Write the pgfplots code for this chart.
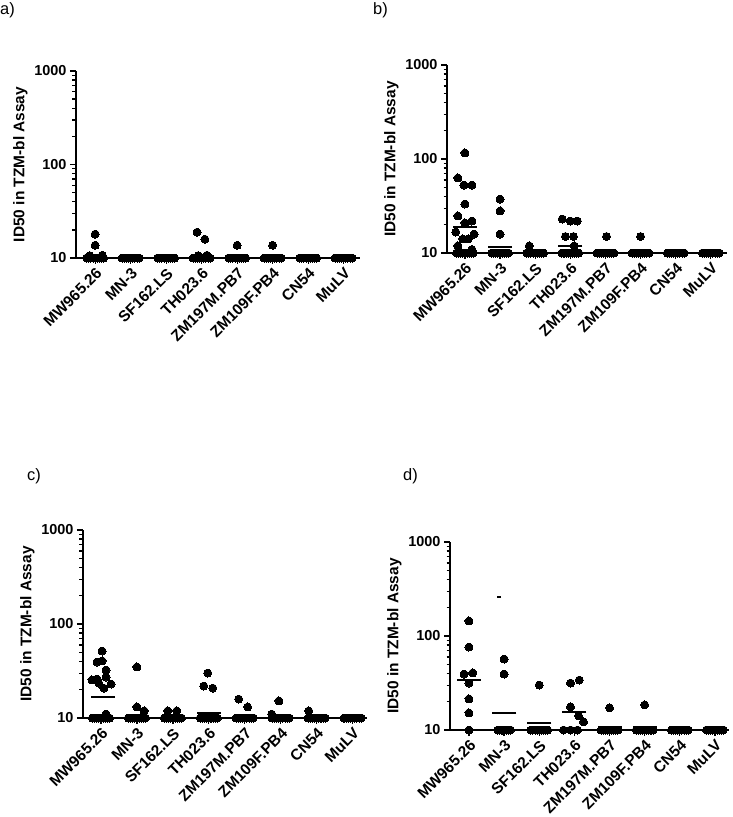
\documentclass[border=0pt]{standalone}
\usepackage{pgfplots}
\pgfplotsset{compat=1.18}
\usepackage{pgfplotstable}
\usepackage{fontspec}
\setmainfont{Liberation Sans}

% clusters of values at the detection limit (10)
\pgfplotstableread[row sep=\\]{x y\\
-0.24 10\\ -0.18 10\\ -0.12 10\\ -0.06 10\\ 0 10\\ 0.06 10\\ 0.12 10\\ 0.18 10\\ 0.24 10\\
0.76 10\\ 0.82 10\\ 0.88 10\\ 0.94 10\\ 1 10\\ 1.06 10\\ 1.12 10\\ 1.18 10\\ 1.24 10\\
1.76 10\\ 1.82 10\\ 1.88 10\\ 1.94 10\\ 2 10\\ 2.06 10\\ 2.12 10\\ 2.18 10\\ 2.24 10\\
2.76 10\\ 2.82 10\\ 2.88 10\\ 2.94 10\\ 3 10\\ 3.06 10\\ 3.12 10\\ 3.18 10\\ 3.24 10\\
3.76 10\\ 3.82 10\\ 3.88 10\\ 3.94 10\\ 4 10\\ 4.06 10\\ 4.12 10\\ 4.18 10\\ 4.24 10\\
4.76 10\\ 4.82 10\\ 4.88 10\\ 4.94 10\\ 5 10\\ 5.06 10\\ 5.12 10\\ 5.18 10\\ 5.24 10\\
5.76 10\\ 5.82 10\\ 5.88 10\\ 5.94 10\\ 6 10\\ 6.06 10\\ 6.12 10\\ 6.18 10\\ 6.24 10\\
6.76 10\\ 6.82 10\\ 6.88 10\\ 6.94 10\\ 7 10\\ 7.06 10\\ 7.12 10\\ 7.18 10\\ 7.24 10\\
}\clusters

\pgfplotstableread[row sep=\\]{x y\\
0.82 10\\ 0.88 10\\ 0.94 10\\ 1 10\\ 1.06 10\\ 1.12 10\\ 1.18 10\\
1.76 10\\ 1.82 10\\ 1.88 10\\ 1.94 10\\ 2 10\\ 2.06 10\\ 2.12 10\\ 2.18 10\\ 2.24 10\\
2.69 10\\ 2.89 10\\ 3.09 10\\
3.76 10\\ 3.82 10\\ 3.88 10\\ 3.94 10\\ 4 10\\ 4.06 10\\ 4.12 10\\ 4.18 10\\ 4.24 10\\
4.76 10\\ 4.82 10\\ 4.88 10\\ 4.94 10\\ 5 10\\ 5.06 10\\ 5.12 10\\ 5.18 10\\ 5.24 10\\
5.76 10\\ 5.82 10\\ 5.88 10\\ 5.94 10\\ 6 10\\ 6.06 10\\ 6.12 10\\ 6.18 10\\ 6.24 10\\
6.76 10\\ 6.82 10\\ 6.88 10\\ 6.94 10\\ 7 10\\ 7.06 10\\ 7.12 10\\ 7.18 10\\ 7.24 10\\
}\clustersD

\pgfplotstableread[row sep=\\]{x y\\
0 18.0\\ 0 13.7\\ 0.2 10.7\\ -0.15 10.6\\
2.87 18.9\\ 3.09 15.9\\ 3.15 10.7\\ 2.9 10.6\\
4.0 13.7\\ 5.0 13.7\\
}\dataA
\pgfplotstableread[row sep=\\]{x y\\ 0 10.45\\ 3 10.5\\}\medA

\pgfplotstableread[row sep=\\]{x y\\
0 116\\ -0.2 62.8\\ -0.03 52.8\\ 0.2 52.8\\ 0 33.2\\ -0.2 24.8\\ 0 20.9\\ 0.2 21.9\\
-0.26 16.7\\ 0.26 15.9\\ -0.06 14.1\\ 0.09 14.1\\ -0.2 11.9\\ 0.2 10.9\\
1 37.5\\ 1 28\\ 1 15.9\\
1.83 11.9\\
2.77 23\\ 3 21.9\\ 3.2 21.9\\ 2.86 15\\ 3.09 15\\ 3.11 11.9\\
4.03 15\\ 5 15\\
}\dataB
\pgfplotstableread[row sep=\\]{x y\\ 0 18.9\\ 1 11.6\\ 3 11.9\\}\medB

\pgfplotstableread[row sep=\\]{x y\\
0.03 51.6\\ -0.11 39.4\\ 0.03 40.5\\ 0.14 32.4\\ -0.25 25.4\\ -0.11 26\\ 0.14 27.3\\
-0.06 23.5\\ 0.28 23.0\\ 0.08 20.8\\ 0.14 11.0\\
1 34.9\\ 1 13.1\\ 1.2 11.9\\
1.86 11.9\\ 2.11 11.9\\
2.97 30.1\\ 2.86 21.9\\ 3.11 20.8\\
3.83 15.9\\ 4.08 13.1\\
4.95 15.2\\ 4.75 11.0\\
5.78 11.9\\
}\dataC
\pgfplotstableread[row sep=\\]{x y\\ 0.06 16.7\\ 1 10.4\\ 3 11.3\\}\medC

\pgfplotstableread[row sep=\\]{x y\\
0 144.5\\ 0 76.4\\ -0.14 39.4\\ 0.11 40.5\\ 0 31.6\\ 0 21.4\\ 0 15.2\\ 0 10\\
1 56.9\\ 1 39.4\\
2 30.1\\
2.89 31.6\\ 3.14 34\\ 2.89 17.6\\ 3.12 14.1\\ 3.26 12.2\\
4 17.2\\ 5 18.5\\
}\dataD
\pgfplotstableread[row sep=\\]{x y\\ 0 34\\ 1.01 15.2\\ 2 11.8\\ 3 15.5\\ 4 10.7\\ 5 10.8\\}\medD
\pgfplotstableread[row sep=\\]{x y\\ 0.86 260\\}\dashD

\pgfplotsset{
  mypanel/.style={
    scale only axis,
    axis lines=left,
    axis line style={-, line width=1.7bp},
    clip=false,
    ytick={10,100,1000}, yticklabels={10,100,1000},
    minor ytick={20,30,40,50,60,70,80,90,200,300,400,500,600,700,800,900},
    xtick={0,...,7},
    xticklabels={MW965.26,MN-3,SF162.LS,TH023.6,ZM197M.PB7,ZM109F.PB4,CN54,MuLV},
    xminorticks=false,
    tick align=outside,
    major tick length=6bp, minor tick length=3.5bp,
    every tick/.append style={black, line width=1.3bp},
    yticklabel style={font=\fontsize{14.5}{16}\selectfont\bfseries},
    xticklabel style={rotate=45, anchor=north east, inner sep=2pt, font=\fontsize{15.5}{17}\selectfont\bfseries},
    ylabel={ID50 in TZM-bl Assay},
    ylabel style={font=\fontsize{15.5}{18}\selectfont\bfseries},
  },
  mydots/.style={only marks, mark=*, mark size=4bp, black, mark options={fill=black, draw=black, line width=0pt}},
  mymeds/.style={only marks, mark=-, mark size=12bp, black, mark options={line width=2bp}},
}

\begin{document}
\begin{tikzpicture}
\path[use as bounding box] (0,0) rectangle (733bp,-817bp);
\node[anchor=north west, inner sep=0pt, font=\fontsize{16.5}{18}\selectfont] at (0bp,-2bp) {a)};
\node[anchor=north west, inner sep=0pt, font=\fontsize{16.5}{18}\selectfont] at (373bp,-2bp) {b)};
\node[anchor=north west, inner sep=0pt, font=\fontsize{16.5}{18}\selectfont] at (27bp,-468bp) {c)};
\node[anchor=north west, inner sep=0pt, font=\fontsize{16.5}{18}\selectfont] at (403bp,-468bp) {d)};

\begin{axis}[ymode=log, ymin=10, ymax=1000, mypanel, at={(76bp,-258bp)}, anchor=south west, width=284bp, height=187bp, xmin=-0.54, xmax=7.46]
\addplot[mydots] table[x=x,y=y] {\clusters};
\addplot[mydots] table[x=x,y=y] {\dataA};
\addplot[mymeds] table[x=x,y=y] {\medA};
\end{axis}

\begin{axis}[ymode=log, ymin=10, ymax=1000, mypanel, at={(447bp,-253bp)}, anchor=south west, width=280bp, height=188bp, xmin=-0.51, xmax=7.46]
\addplot[mydots] table[x=x,y=y] {\clusters};
\addplot[mydots] table[x=x,y=y] {\dataB};
\addplot[mymeds] table[x=x,y=y] {\medB};
\end{axis}

\begin{axis}[ymode=log, ymin=10, ymax=1000, mypanel, at={(83bp,-718bp)}, anchor=south west, width=284bp, height=188bp, xmin=-0.5, xmax=7.4]
\addplot[mydots] table[x=x,y=y] {\clusters};
\addplot[mydots] table[x=x,y=y] {\dataC};
\addplot[mymeds] table[x=x,y=y] {\medC};
\end{axis}

\begin{axis}[ymode=log, ymin=10, ymax=1000, mypanel, at={(450bp,-730bp)}, anchor=south west, width=279bp, height=188bp, xmin=-0.54, xmax=7.4]
\addplot[mydots] table[x=x,y=y] {\clustersD};
\addplot[mydots] table[x=x,y=y] {\dataD};
\addplot[mymeds] table[x=x,y=y] {\medD};
\addplot[only marks, mark=-, mark size=2bp, black, mark options={line width=2bp}] table[x=x,y=y] {\dashD};
\end{axis}
\end{tikzpicture}
\end{document}
